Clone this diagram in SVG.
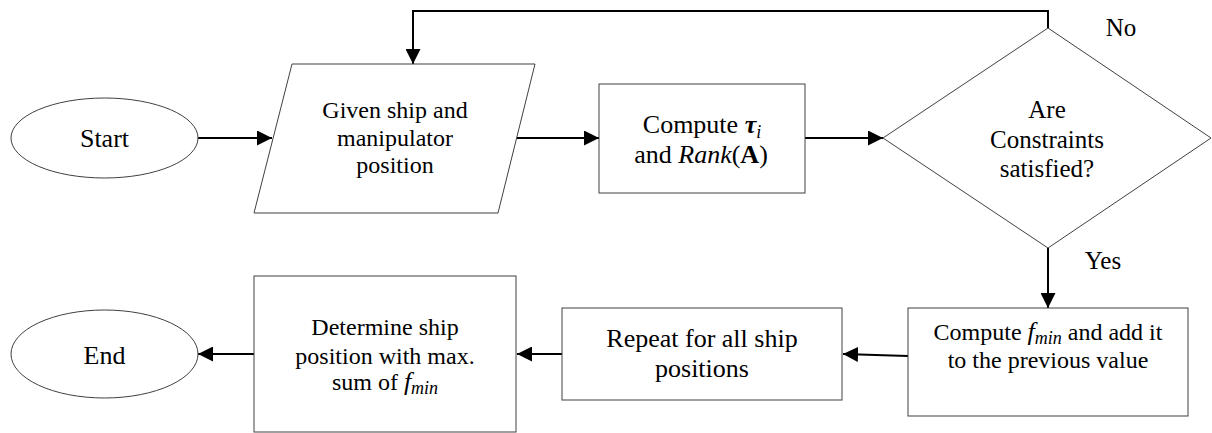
<svg xmlns="http://www.w3.org/2000/svg" width="1212" height="433" viewBox="0 0 1212 433">
  <defs>
    <marker id="arrow" viewBox="0 0 10 10" refX="10" refY="5" markerWidth="7.5" markerHeight="7.5" markerUnits="strokeWidth" orient="auto">
      <path d="M0,0 L10,5 L0,10 Z" fill="#000"/>
    </marker>
  </defs>
  <style>
    .shape { fill: #fff; stroke: #404040; stroke-width: 1; }
    .edge { fill: none; stroke: #000; stroke-width: 2; marker-end: url(#arrow); }
    text { fill: #000; text-anchor: middle; }
    .t24 { font-size: 24px; }
    .t25 { font-size: 25px; }
    .t26 { font-size: 26px; }
    .it { font-style: italic; }
    .bf { font-weight: bold; }
  </style>
  <rect width="1212" height="433" fill="#fff"/>

  <g font-family="Liberation Serif, Tinos, DejaVu Serif, serif">
  <g id="connectors">
    <line class="edge" x1="198" y1="138" x2="272" y2="138"/>
    <line class="edge" x1="517" y1="138" x2="599" y2="138"/>
    <line class="edge" x1="805" y1="138" x2="883" y2="138"/>
    <polyline class="edge" points="1048,28 1048,11 413,11 413,64"/>
    <line class="edge" x1="1048" y1="248" x2="1048" y2="308"/>
    <line class="edge" x1="908" y1="356" x2="843" y2="354"/>
    <line class="edge" x1="562" y1="354" x2="517" y2="354"/>
    <line class="edge" x1="254" y1="354" x2="198" y2="354"/>
    <text class="t25" x="1121" y="36">No</text>
    <text class="t25" x="1103" y="269">Yes</text>
  </g>

  <g id="start">
    <ellipse class="shape" cx="104.5" cy="138" rx="93.5" ry="40"/>
    <text class="t26" x="104.5" y="147">Start</text>
  </g>

  <g id="input">
    <polygon class="shape" points="292,64 535,64 498,213 254,213"/>
    <text class="t24" x="395" y="118">Given ship and</text>
    <text class="t24" x="395" y="146">manipulator</text>
    <text class="t24" x="395" y="173">position</text>
  </g>

  <g id="compute-tau">
    <rect class="shape" x="599" y="84" width="206" height="109"/>
    <text class="t26" x="702" y="133">Compute <tspan class="bf it">τ</tspan><tspan class="it" font-size="18" dy="5">i</tspan></text>
    <text class="t26" x="701" y="163">and <tspan class="it">Rank</tspan>(<tspan class="bf">A</tspan>)</text>
  </g>

  <g id="decision">
    <polygon class="shape" points="883,138 1048,28 1211,138 1048,248"/>
    <text class="t25" x="1047" y="118">Are</text>
    <text class="t25" x="1047" y="148">Constraints</text>
    <text class="t25" x="1047" y="177">satisfied?</text>
  </g>

  <g id="compute-fmin">
    <rect class="shape" x="908" y="308" width="280" height="108"/>
    <text class="t24" x="1048" y="340">Compute <tspan class="it" font-size="26">f</tspan><tspan class="it" font-size="18" dy="4">min</tspan><tspan dy="-4"> and add it</tspan></text>
    <text class="t24" x="1048" y="368">to the previous value</text>
  </g>

  <g id="repeat">
    <rect class="shape" x="562" y="308" width="280" height="92"/>
    <text class="t26" x="702" y="347">Repeat for all ship</text>
    <text class="t26" x="702" y="377">positions</text>
  </g>

  <g id="determine">
    <rect class="shape" x="254" y="276" width="262" height="156"/>
    <text class="t24" x="385" y="335">Determine ship</text>
    <text class="t24" x="385" y="364">position with max.</text>
    <text class="t24" x="385" y="390">sum of <tspan class="it" font-size="26">f</tspan><tspan class="it" font-size="18" dy="4">min</tspan></text>
  </g>

  <g id="end">
    <ellipse class="shape" cx="104.5" cy="354" rx="93.5" ry="44"/>
    <text class="t26" x="104.5" y="364">End</text>
  </g>
  </g>
</svg>
